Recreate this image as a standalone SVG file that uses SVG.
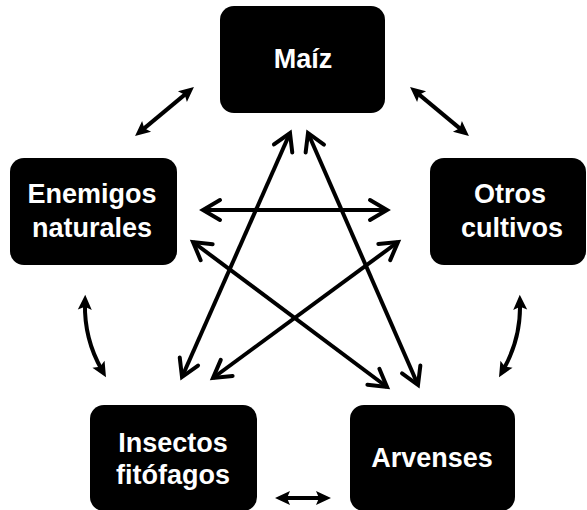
<svg xmlns="http://www.w3.org/2000/svg" width="587" height="510" viewBox="0 0 587 510">
<style>
.box{fill:#000;}
.lbl{fill:#fff;font-family:"Liberation Sans",Arial,sans-serif;font-weight:bold;font-size:27px;text-anchor:middle;}
.c{fill:none;stroke:#000;stroke-width:4;}
.o{marker-start:url(#open);marker-end:url(#open);}
.f{marker-start:url(#fil);marker-end:url(#fil);}
</style>
<defs>
<marker id="open" viewBox="-20 -12 26 24" refX="0" refY="0" markerWidth="26" markerHeight="24" markerUnits="userSpaceOnUse" orient="auto-start-reverse" overflow="visible">
<path d="M-17,-10 L0,0 L-17,10" fill="none" stroke="#000" stroke-width="4" stroke-linecap="round"/>
</marker>
<marker id="fil" viewBox="-10 -8 20 16" refX="0" refY="0" markerWidth="20" markerHeight="16" markerUnits="userSpaceOnUse" orient="auto-start-reverse" overflow="visible">
<path d="M8,0 L-7,-7 L-4,0 L-7,7 z" fill="#000"/>
</marker>
</defs>
<rect width="587" height="510" fill="#fff"/>
<g id="connectors">
<line class="c f" x1="141.2" y1="130.9" x2="187.8" y2="92.1"/>
<line class="c f" x1="416.2" y1="92.1" x2="462.8" y2="130.9"/>
<path class="c f" d="M85,302.8 Q84,339 102,370.2"/>
<path class="c f" d="M520,302.8 Q521,339 503,370.2"/>
<line class="c f" x1="283" y1="498" x2="323" y2="498"/>
<line class="c o" x1="182" y1="377" x2="290" y2="133"/>
<line class="c o" x1="308" y1="133" x2="418" y2="385"/>
<line class="c o" x1="203" y1="210" x2="387" y2="210"/>
<line class="c o" x1="193" y1="242" x2="387" y2="387"/>
<line class="c o" x1="398" y1="242" x2="213" y2="378"/>
</g>
<g id="maiz">
<rect class="box" x="220" y="6" width="165" height="107" rx="14"/>
<text class="lbl" x="303" y="68">Maíz</text>
</g>
<g id="enemigos">
<rect class="box" x="10" y="158" width="167" height="107" rx="14"/>
<text class="lbl" x="92" y="203">Enemigos</text>
<text class="lbl" x="92" y="237">naturales</text>
</g>
<g id="otros">
<rect class="box" x="430" y="158" width="156" height="107" rx="14"/>
<text class="lbl" x="510" y="203">Otros</text>
<text class="lbl" x="512" y="237">cultivos</text>
</g>
<g id="insectos">
<rect class="box" x="90" y="405" width="167" height="106" rx="14"/>
<text class="lbl" x="173" y="452">Insectos</text>
<text class="lbl" x="173" y="484">fitófagos</text>
</g>
<g id="arvenses">
<rect class="box" x="350" y="405" width="165" height="106" rx="14"/>
<text class="lbl" x="432" y="467">Arvenses</text>
</g>
</svg>
